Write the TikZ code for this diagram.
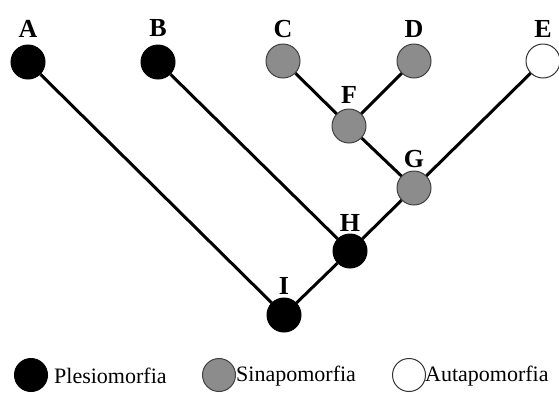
\documentclass[tikz,border=0pt]{standalone}
\usepackage{fontspec}
\setmainfont{Liberation Serif}
\begin{document}
\begin{tikzpicture}[x=1pt,y=-1pt,
  taxon/.style={circle,minimum size=34pt,inner sep=0pt,draw=black,line width=1pt},
  plesio/.style={taxon,fill=black},
  sina/.style={taxon,fill=gray!90,draw=black!75},
  auta/.style={taxon,fill=white,draw=black!80},
  lab/.style={font=\bfseries\fontsize{26}{26}\selectfont,inner sep=0pt},
  branch/.style={line width=3pt,black},
  leg/.style={circle,minimum size=33pt,inner sep=0pt,line width=1pt},
  legtext/.style={font=\fontsize{22}{22}\selectfont,inner sep=0pt,anchor=west}]
\useasboundingbox (0,0) rectangle (559,392);
% nodes
\node[plesio] (A) at (28,62) {};
\node[plesio] (B) at (158,62) {};
\node[sina] (C) at (283,61) {};
\node[sina] (D) at (414,61) {};
\node[auta] (E) at (543,61) {};
\node[sina] (F) at (349,126) {};
\node[sina] (G) at (414,188) {};
\node[plesio] (H) at (350,251) {};
\node[plesio] (I) at (284,315) {};
% branches
\draw[branch] (A) -- (I);
\draw[branch] (B) -- (H);
\draw[branch] (C) -- (F);
\draw[branch] (D) -- (F);
\draw[branch] (F) -- (G);
\draw[branch] (E) -- (G);
\draw[branch] (G) -- (H);
\draw[branch] (H) -- (I);
% labels
\node[lab] (lA) at (28,29) {A};
\node[lab] (lB) at (158,28) {B};
\node[lab] (lC) at (283,29) {C};
\node[lab] (lD) at (414,29) {D};
\node[lab] (lE) at (543,29) {E};
\node[lab] (lF) at (349,95) {F};
\node[lab] (lG) at (414,159) {G};
\node[lab] (lH) at (350,223) {H};
\node[lab] (lI) at (284,286) {I};
% legend
\node[leg,fill=black,draw=black] (k1) at (31,375) {};
\node[legtext] (t1) at (54,376) {Plesiomorfia};
\node[leg,fill=gray!90,draw=black!75] (k2) at (219,375) {};
\node[legtext] (t2) at (236,376) {Sinapomorfia};
\node[leg,fill=white,draw=black!80] (k3) at (409,375) {};
\node[legtext] (t3) at (425,376) {Autapomorfia};
\end{tikzpicture}
\end{document}
